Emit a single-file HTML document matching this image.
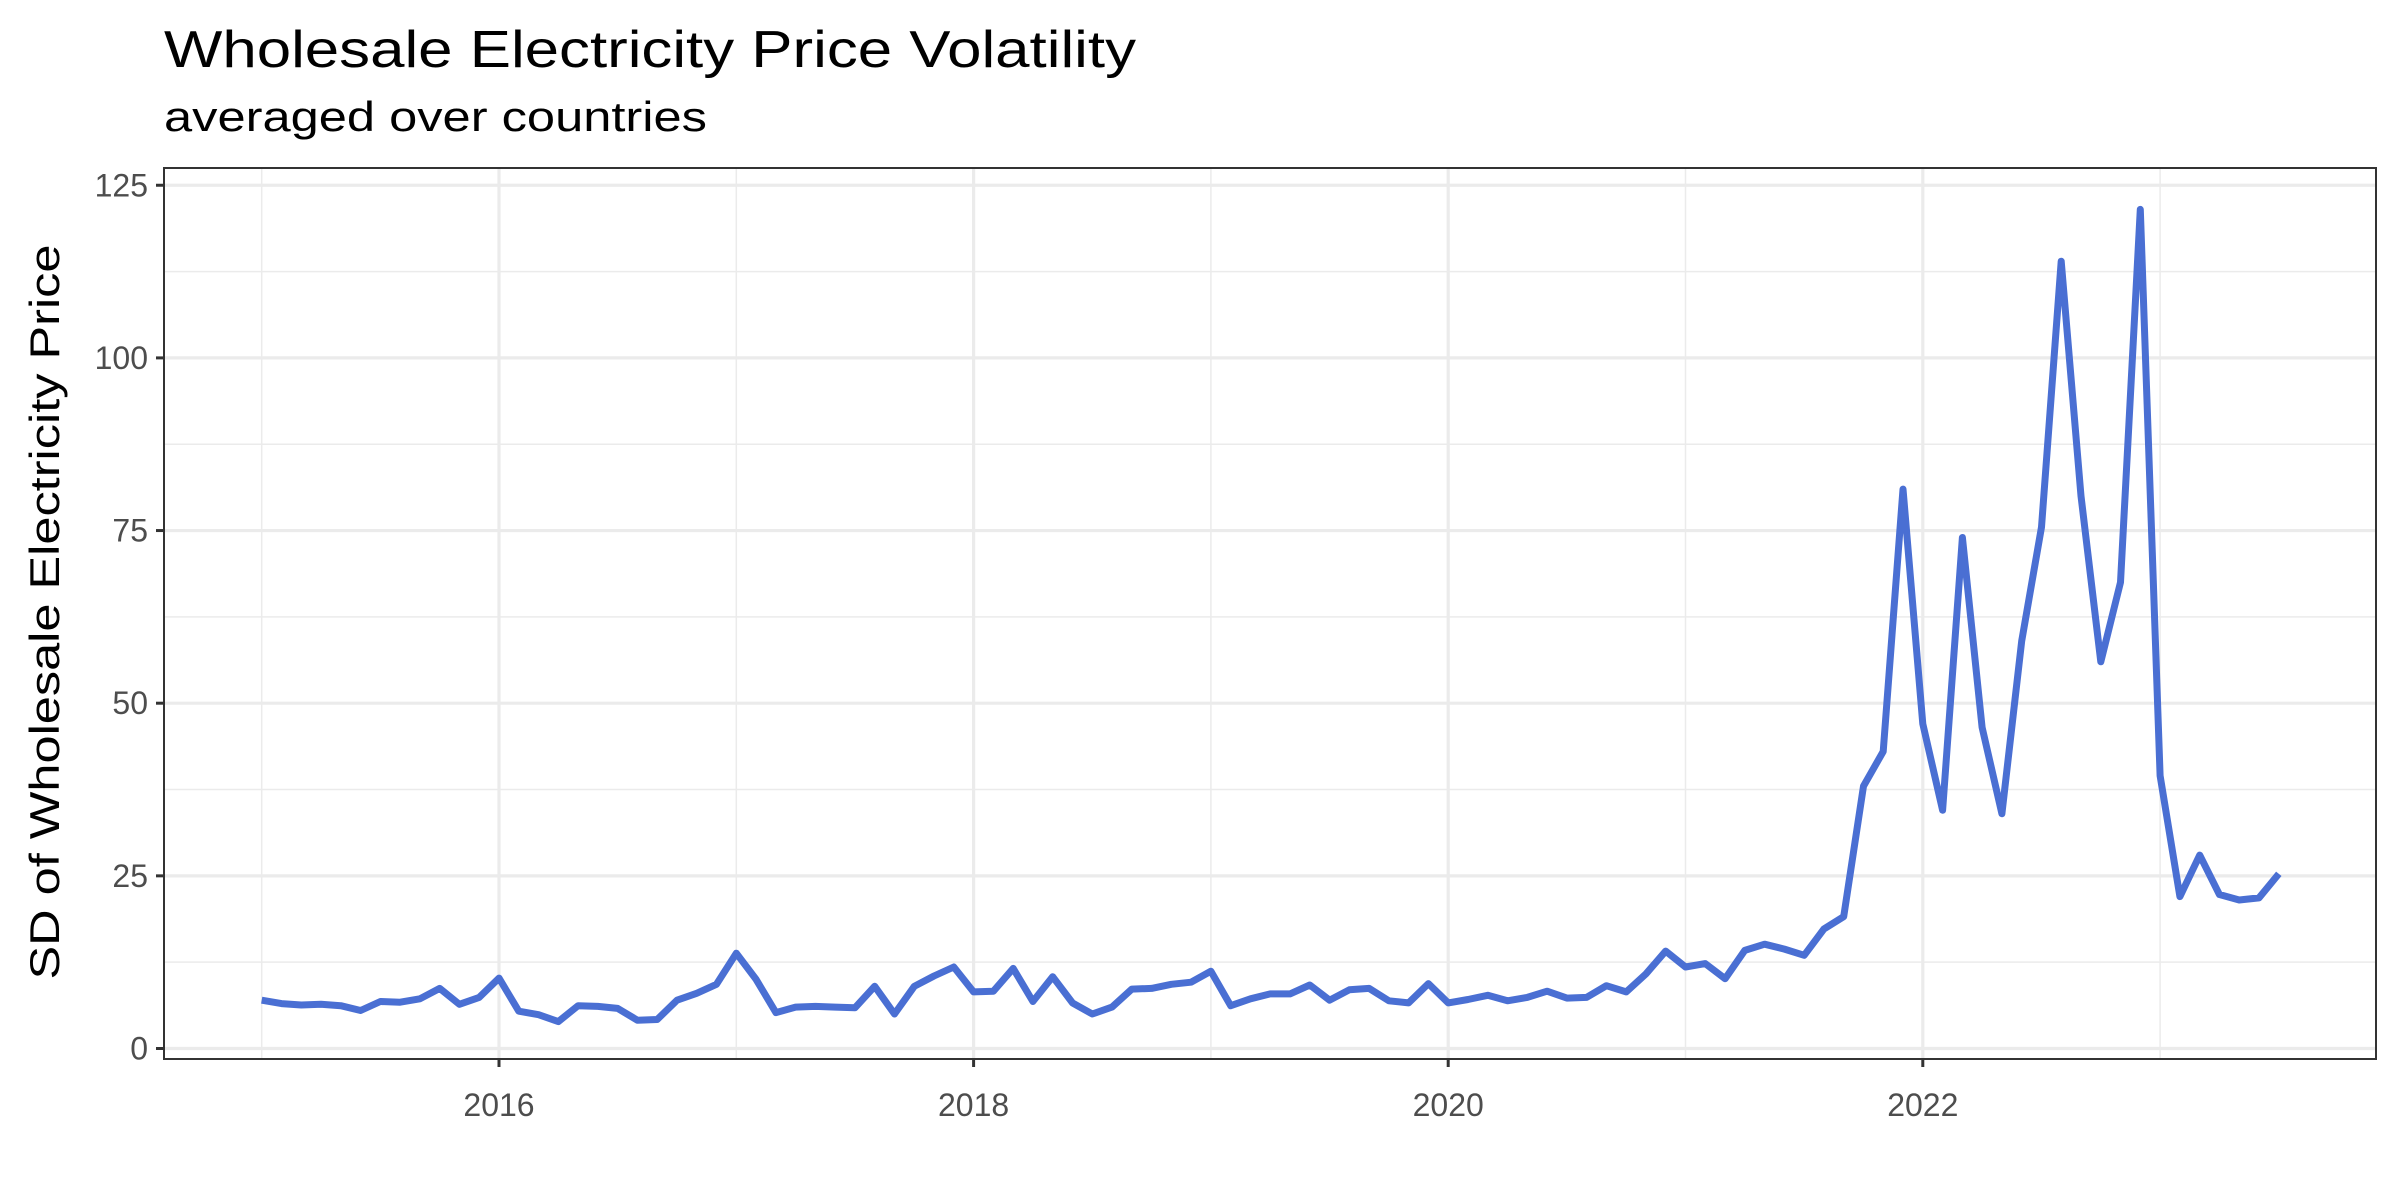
<!DOCTYPE html>
<html><head><meta charset="utf-8"><style>
html,body{margin:0;padding:0;background:#fff;}
svg{display:block;font-family:"Liberation Sans",sans-serif;}
</style></head><body>
<svg id="chart" width="2400" height="1200" viewBox="0 0 2400 1200">
<text x="164" y="67" font-size="52" fill="#000" textLength="972" lengthAdjust="spacingAndGlyphs">Wholesale Electricity Price Volatility</text>
<text x="164" y="131" font-size="42" fill="#000" textLength="543" lengthAdjust="spacingAndGlyphs">averaged over countries</text>
<text transform="translate(59,612) rotate(-90)" text-anchor="middle" font-size="42" fill="#000" textLength="735" lengthAdjust="spacingAndGlyphs">SD of Wholesale Electricity Price</text>
<g id="grid"></g>
<g id="axes"></g>
<g id="series"></g>
<rect x="164" y="168" width="2212" height="891" fill="none" stroke="#333" stroke-width="2"/>
</svg>
<script>
const startYear = 2015;
const values = [
7.0,6.5,6.3,6.4,6.2,5.5,6.8,6.7,7.2,8.7,6.4,7.4,
10.2,5.4,4.9,3.9,6.2,6.1,5.8,4.1,4.2,7.0,8.0,9.3,
13.8,10.0,5.2,6.0,6.1,6.0,5.9,9.0,5.0,9.0,10.5,11.8,
8.2,8.3,11.6,6.8,10.4,6.6,5.0,6.0,8.6,8.7,9.3,9.6,
11.2,6.2,7.2,7.9,7.9,9.2,7.0,8.5,8.7,6.9,6.6,9.4,
6.6,7.1,7.7,6.9,7.4,8.3,7.3,7.4,9.1,8.2,10.8,14.1,
11.8,12.3,10.1,14.2,15.1,14.4,13.5,17.3,19.1,38,43,81,
47,34.5,74,46.5,34,59,75.5,114,80,56,67.5,121.5,
39.5,22,28,22.3,21.5,21.8,25.3];
const yTicks = [0,25,50,75,100,125];
const yMinor = [12.5,37.5,62.5,87.5,112.5];
const xTicks = [2016,2018,2020,2022];
const xMinor = [2015,2017,2019,2021,2023];

const PL=164, PR=2376, PT=168, PB=1059;
function xs(t){return 499 + (t-2016)*237.3;}
function ys(v){return 1048.5 - v*6.906;}
const NS='http://www.w3.org/2000/svg';
function mk(tag, attrs, parent){const e=document.createElementNS(NS,tag);for(const k in attrs)e.setAttribute(k,attrs[k]);parent.appendChild(e);return e;}
const grid=document.getElementById('grid'), axes=document.getElementById('axes'), series=document.getElementById('series');

yMinor.forEach(v=>{const l=mk('line',{x1:PL,x2:PR,y1:ys(v),y2:ys(v),stroke:'#ebebeb','stroke-width':1.5},grid);

});
xMinor.forEach(v=>{const l=mk('line',{x1:xs(v),x2:xs(v),y1:PT,y2:PB,stroke:'#ebebeb','stroke-width':1.5},grid);

});
yTicks.forEach(v=>{const l=mk('line',{x1:PL,x2:PR,y1:ys(v),y2:ys(v),stroke:'#ebebeb','stroke-width':3.2},grid);


const t=mk('line',{x1:PL-8,x2:PL,y1:ys(v),y2:ys(v),stroke:'#333','stroke-width':3},axes);


const tx=mk('text',{x:PL-16,y:ys(v)+11,'text-anchor':'end','font-size':32,fill:'#4d4d4d'},axes);
tx.textContent=v;

});
xTicks.forEach(v=>{const l=mk('line',{x1:xs(v),x2:xs(v),y1:PT,y2:PB,stroke:'#ebebeb','stroke-width':3.2},grid);


const t=mk('line',{x1:xs(v),x2:xs(v),y1:PB,y2:PB+8,stroke:'#333','stroke-width':3},axes);


const tx=mk('text',{x:xs(v),y:1116,'text-anchor':'middle','font-size':32,fill:'#4d4d4d'},axes);
tx.textContent=v;

});

const pts=values.map((v,i)=>xs(startYear+i/12).toFixed(1)+','+ys(v).toFixed(1)).join(' ');
const line=mk('polyline',{points:pts,fill:'none',stroke:'#4a6fd3','stroke-width':7,'stroke-linejoin':'round','stroke-linecap':'butt'},series);


</script>
</body></html>
